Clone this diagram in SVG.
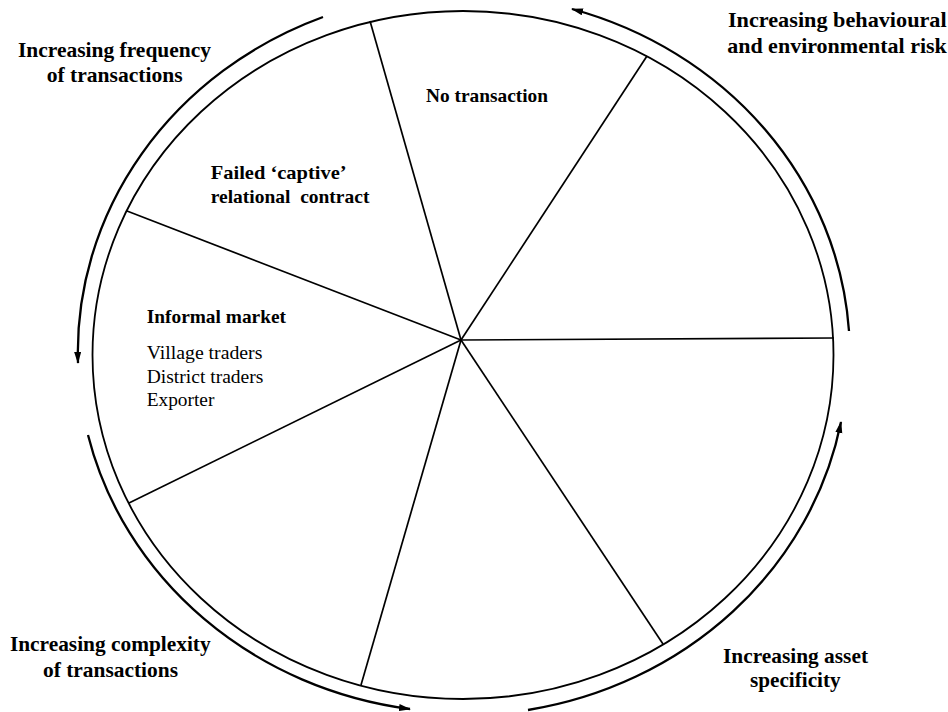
<svg xmlns="http://www.w3.org/2000/svg" width="948" height="712" viewBox="0 0 948 712">
<style>
.bg{fill:#ffffff}
.rim{fill:none;stroke:#000;stroke-width:1.8}
.spoke{stroke:#000;stroke-width:1.7;fill:none}
.arc{fill:none;stroke:#000;stroke-width:2.3}
.lbl{font-family:"Liberation Serif","Times New Roman",serif;font-weight:bold;font-size:21px;fill:#000}
.in{font-family:"Liberation Serif","Times New Roman",serif;font-weight:bold;font-size:19px;fill:#000}
.reg{font-family:"Liberation Serif","Times New Roman",serif;font-size:19.5px;fill:#000}
</style>
<defs>
<marker id="ah" markerUnits="userSpaceOnUse" markerWidth="12" markerHeight="8" refX="11" refY="3.5" orient="auto">
<path d="M0,0 L12,3.5 L0,7 Z" fill="#000"/>
</marker>
</defs>
<rect class="bg" x="0" y="0" width="948" height="712"/>
<g id="wheel">
<ellipse class="rim" cx="463" cy="355" rx="370.5" ry="344"/>
</g>
<g id="connectors">
<line class="spoke" x1="461" y1="340" x2="370" y2="21"/>
<line class="spoke" x1="461" y1="340" x2="647" y2="56"/>
<line class="spoke" x1="461" y1="340" x2="834" y2="338"/>
<line class="spoke" x1="461" y1="340" x2="663" y2="644"/>
<line class="spoke" x1="461" y1="340" x2="361" y2="685"/>
<line class="spoke" x1="461" y1="340" x2="129" y2="503"/>
<line class="spoke" x1="461" y1="340" x2="127" y2="211"/>
<path id="arc-frequency" class="arc" d="M323,17 A386,360 0 0 0 78,363" marker-end="url(#ah)"/>
<path id="arc-complexity" class="arc" d="M88,435 A386,360 0 0 0 410,709" marker-end="url(#ah)"/>
<path id="arc-asset" class="arc" d="M528,710 A386,360 0 0 0 841,422" marker-end="url(#ah)"/>
<path id="arc-risk" class="arc" d="M849,331 A386,360 0 0 0 572,9" marker-end="url(#ah)"/>
</g>
<g id="label-frequency">
<text class="lbl" x="114.5" y="57.3" text-anchor="middle" textLength="193" lengthAdjust="spacingAndGlyphs">Increasing frequency</text>
<text class="lbl" x="114.7" y="82" text-anchor="middle" textLength="136" lengthAdjust="spacingAndGlyphs">of transactions</text>
</g>
<g id="label-risk">
<text class="lbl" x="837.3" y="27.3" text-anchor="middle" textLength="218.7" lengthAdjust="spacingAndGlyphs">Increasing behavioural</text>
<text class="lbl" x="837" y="52.7" text-anchor="middle" textLength="219.7" lengthAdjust="spacingAndGlyphs">and environmental risk</text>
</g>
<g id="label-complexity">
<text class="lbl" x="110.3" y="651" text-anchor="middle" textLength="200.7" lengthAdjust="spacingAndGlyphs">Increasing complexity</text>
<text class="lbl" x="110.5" y="677.3" text-anchor="middle" textLength="135" lengthAdjust="spacingAndGlyphs">of transactions</text>
</g>
<g id="label-asset">
<text class="lbl" x="795.5" y="663.3" text-anchor="middle" textLength="145" lengthAdjust="spacingAndGlyphs">Increasing asset</text>
<text class="lbl" x="795.3" y="687.3" text-anchor="middle" textLength="90.7" lengthAdjust="spacingAndGlyphs">specificity</text>
</g>
<g id="node-no-transaction">
<text class="in" x="426" y="102" textLength="122" lengthAdjust="spacingAndGlyphs">No transaction</text>
</g>
<g id="node-failed-captive">
<text class="in" x="210.7" y="179.3" textLength="136" lengthAdjust="spacingAndGlyphs">Failed ‘captive’</text>
<text class="in" x="210.7" y="203.3" textLength="158.7" lengthAdjust="spacingAndGlyphs" xml:space="preserve">relational  contract</text>
</g>
<g id="node-informal-market">
<text class="in" x="146.7" y="322.7" textLength="139.3" lengthAdjust="spacingAndGlyphs">Informal market</text>
<text class="reg" x="146.7" y="359.3" textLength="115.7" lengthAdjust="spacingAndGlyphs">Village traders</text>
<text class="reg" x="146.7" y="382.7" textLength="116.7" lengthAdjust="spacingAndGlyphs">District traders</text>
<text class="reg" x="146.7" y="406.3" textLength="67.7" lengthAdjust="spacingAndGlyphs">Exporter</text>
</g>
</svg>
